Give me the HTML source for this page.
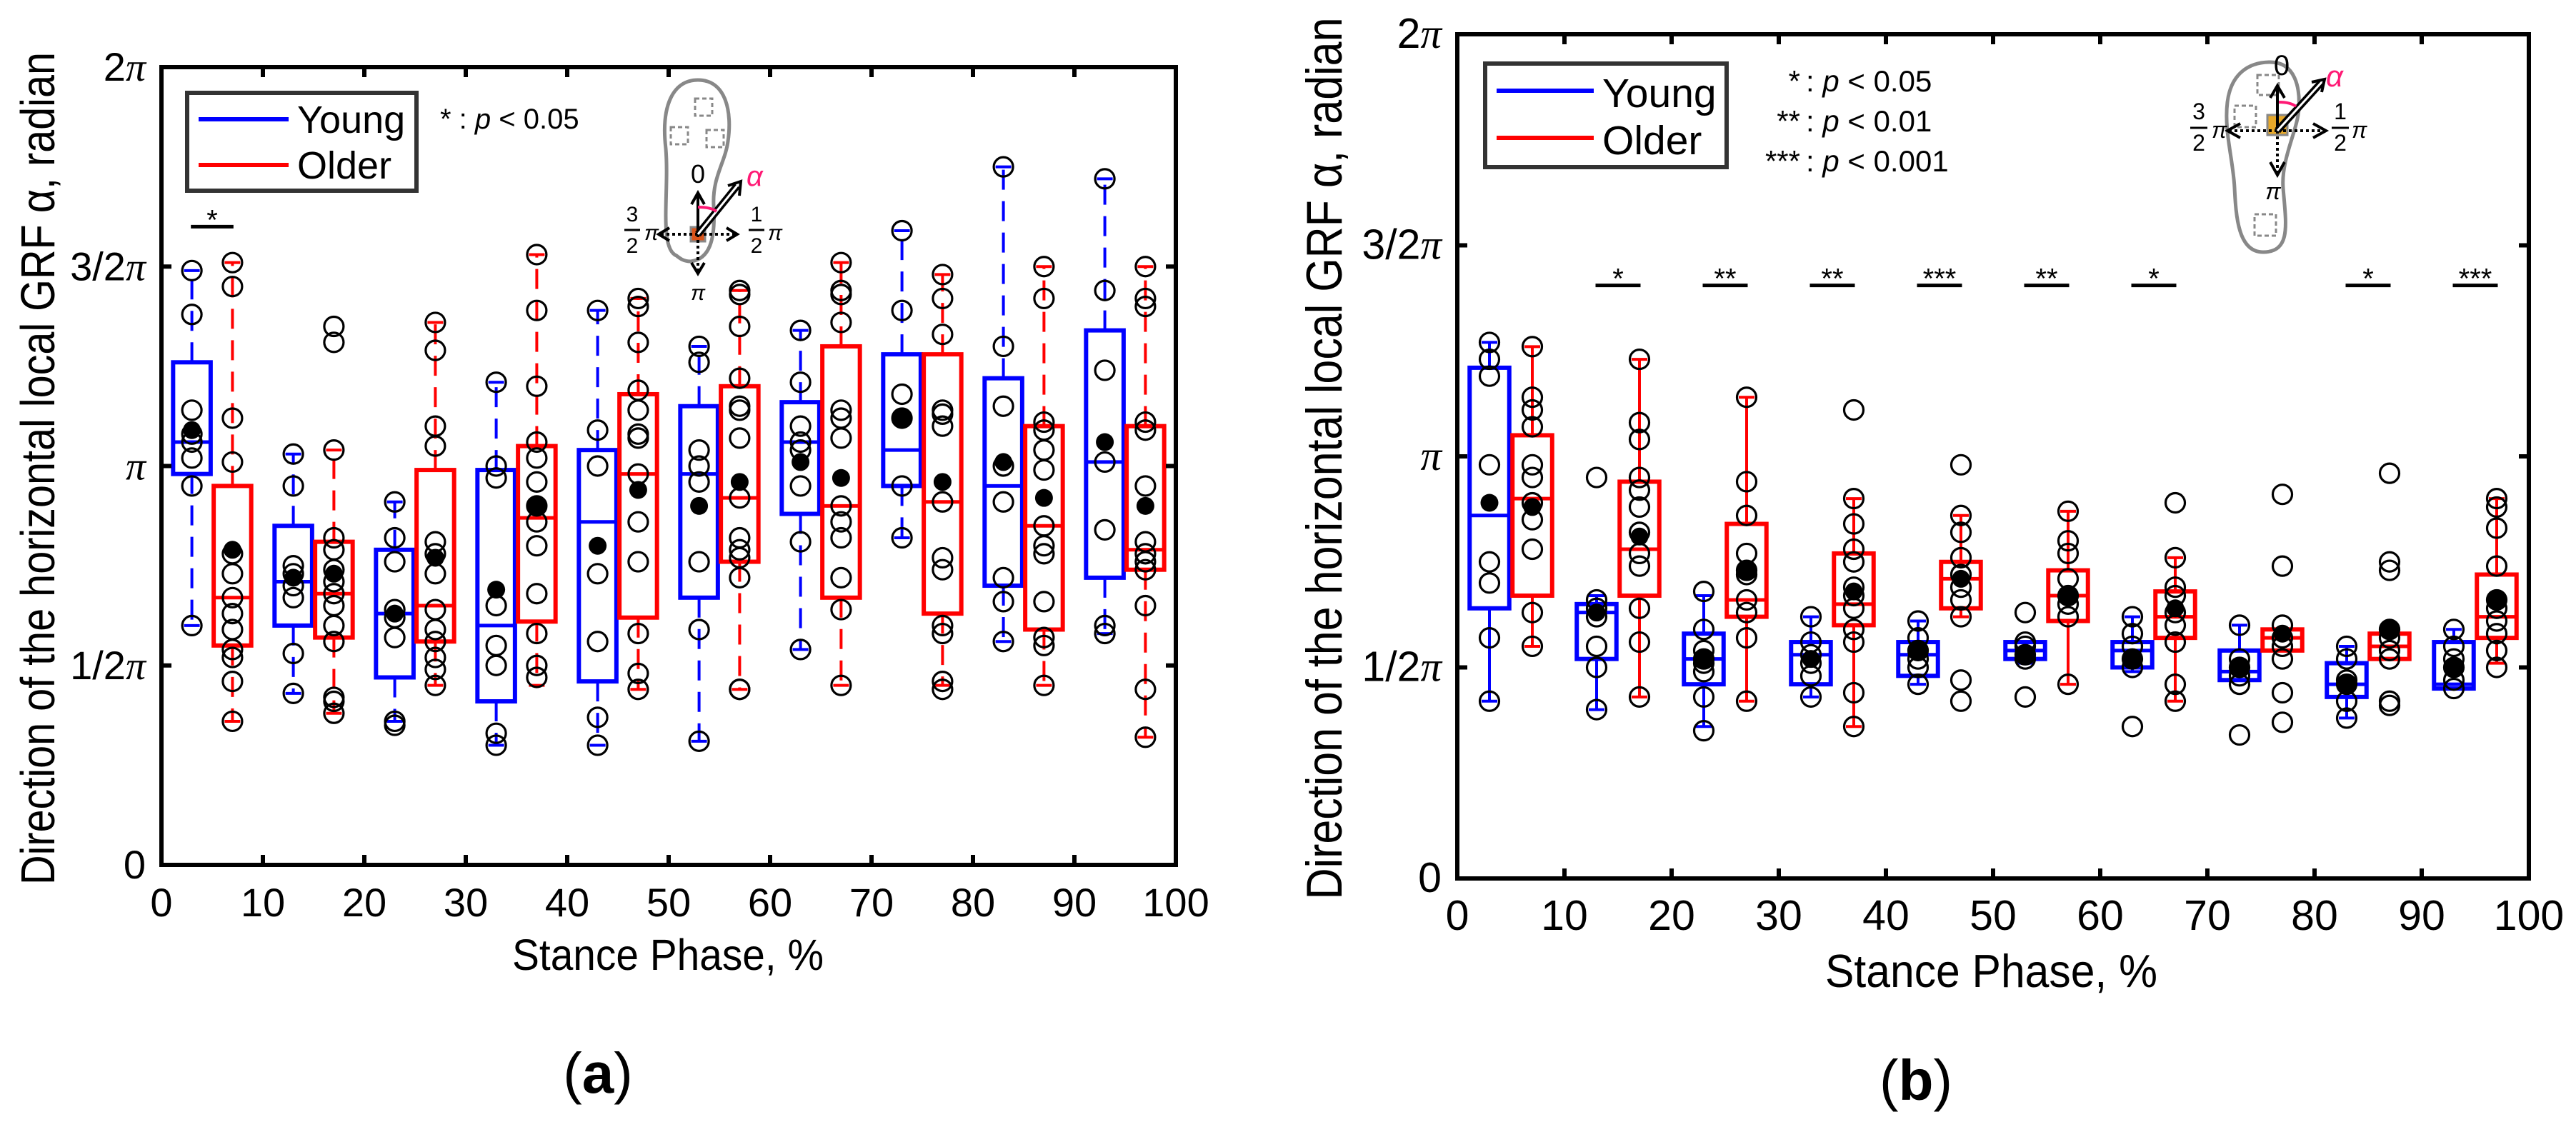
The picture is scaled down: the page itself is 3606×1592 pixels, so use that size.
<!DOCTYPE html>
<html><head><meta charset="utf-8">
<style>
html,body{margin:0;padding:0;background:#fff;}
svg{display:block;}
text{font-family:"Liberation Sans",Arial,sans-serif;}
</style></head>
<body>
<svg id="fig" width="3606" height="1592" viewBox="0 0 3606 1592" xmlns="http://www.w3.org/2000/svg">
<rect width="3606" height="1592" fill="#fff"/>
<g id="panelA"></g>
<g id="panelB"></g>

<!-- Legend panel a -->
<g>
 <rect x="262" y="130" width="321" height="137" fill="#fff" stroke="#333" stroke-width="6"/>
 <line x1="278" y1="167" x2="404" y2="167" stroke="#0000ff" stroke-width="6"/>
 <text x="416" y="186" font-size="54">Young</text>
 <line x1="278" y1="231" x2="404" y2="231" stroke="#ff0000" stroke-width="6"/>
 <text x="416" y="250" font-size="54">Older</text>
</g>
<text x="616" y="180" font-size="40">*  : <tspan font-style="italic">p</tspan> &lt; 0.05</text>

<!-- Foot inset a -->
<g transform="translate(977,328)">
 <path d="M-30,30 C-55,20 -40,-60 -45,-120 C-52,-180 -35,-216 0,-216 C40,-216 48,-170 42,-130 C38,-100 20,-80 22,-40 C25,10 15,35 -10,38 C-20,38 -25,34 -30,30 Z" fill="none" stroke="#888" stroke-width="5"/>
 <rect x="-4" y="-190" width="24" height="24" fill="none" stroke="#888" stroke-width="3" stroke-dasharray="6,4"/>
 <rect x="-38" y="-150" width="24" height="24" fill="none" stroke="#888" stroke-width="3" stroke-dasharray="6,4"/>
 <rect x="12" y="-146" width="24" height="24" fill="none" stroke="#888" stroke-width="3" stroke-dasharray="6,4"/>
 <rect x="-10" y="-10" width="20" height="20" fill="#d9541a" stroke="#888" stroke-width="3"/>
 <line x1="0" y1="0" x2="0" y2="-55" stroke="#000" stroke-width="4"/>
 <path d="M-9,-42 L0,-58 L9,-42" fill="none" stroke="#000" stroke-width="4"/>
 <line x1="0" y1="0" x2="0" y2="52" stroke="#000" stroke-width="4" stroke-dasharray="4,4"/>
 <path d="M-9,40 L0,55 L9,40" fill="none" stroke="#000" stroke-width="4"/>
 <line x1="0" y1="0" x2="-52" y2="0" stroke="#000" stroke-width="4" stroke-dasharray="4,4"/>
 <path d="M-40,-9 L-55,0 L-40,9" fill="none" stroke="#000" stroke-width="4"/>
 <line x1="0" y1="0" x2="52" y2="0" stroke="#000" stroke-width="4" stroke-dasharray="4,4"/>
 <path d="M40,-9 L55,0 L40,9" fill="none" stroke="#000" stroke-width="4"/>
 <line x1="0" y1="0" x2="55" y2="-68" stroke="#000" stroke-width="10"/>
 <line x1="0" y1="0" x2="55" y2="-68" stroke="#fff" stroke-width="3"/>
 <path d="M42,-68 L60,-74 L58,-54" fill="none" stroke="#000" stroke-width="4"/>
 <path d="M0,-38 Q18,-38 26,-32" fill="none" stroke="#ff1a75" stroke-width="4"/>
 <text x="0" y="-72" font-size="36" text-anchor="middle">0</text>
 <text x="68" y="-68" font-size="40" font-style="italic" fill="#ff1a75" font-family="Liberation Serif,serif">α</text>
 <text x="-92" y="-18" font-size="30" text-anchor="middle" font-family="Liberation Serif,serif">3</text>
 <line x1="-103" y1="-6" x2="-81" y2="-6" stroke="#000" stroke-width="3"/>
 <text x="-92" y="26" font-size="30" text-anchor="middle" font-family="Liberation Serif,serif">2</text>
 <text x="-75" y="8" font-size="30" font-style="italic" font-family="Liberation Serif,serif">π</text>
 <text x="82" y="-18" font-size="30" text-anchor="middle" font-family="Liberation Serif,serif">1</text>
 <line x1="71" y1="-6" x2="93" y2="-6" stroke="#000" stroke-width="3"/>
 <text x="82" y="26" font-size="30" text-anchor="middle" font-family="Liberation Serif,serif">2</text>
 <text x="98" y="8" font-size="30" font-style="italic" font-family="Liberation Serif,serif">π</text>
 <text x="0" y="92" font-size="30" font-style="italic" text-anchor="middle" font-family="Liberation Serif,serif">π</text>
</g>

<!-- Legend panel b -->
<g>
 <rect x="2079" y="89" width="338" height="145" fill="#fff" stroke="#333" stroke-width="6"/>
 <line x1="2095" y1="127" x2="2231" y2="127" stroke="#0000ff" stroke-width="6"/>
 <text x="2243" y="150" font-size="57">Young</text>
 <line x1="2095" y1="193" x2="2231" y2="193" stroke="#ff0000" stroke-width="6"/>
 <text x="2243" y="216" font-size="57">Older</text>
</g>
<g font-size="42">
 <text x="2520" y="128" text-anchor="end">*</text><text x="2528" y="128">: <tspan font-style="italic">p</tspan> &lt; 0.05</text>
 <text x="2520" y="184" text-anchor="end">**</text><text x="2528" y="184">: <tspan font-style="italic">p</tspan> &lt; 0.01</text>
 <text x="2520" y="240" text-anchor="end">***</text><text x="2528" y="240">: <tspan font-style="italic">p</tspan> &lt; 0.001</text>
</g>

<!-- Foot inset b -->
<g transform="translate(3188,183)">
 <path d="M-10,-96 C25,-96 32,-60 30,-30 C28,0 5,40 8,80 C12,130 20,170 -20,170 C-55,170 -58,120 -60,80 C-62,40 -75,0 -70,-40 C-65,-80 -40,-96 -10,-96 Z" fill="none" stroke="#888" stroke-width="5"/>
 <rect x="-28" y="-78" width="30" height="28" fill="none" stroke="#888" stroke-width="3" stroke-dasharray="6,4"/>
 <rect x="-60" y="-35" width="30" height="30" fill="none" stroke="#888" stroke-width="3" stroke-dasharray="6,4"/>
 <rect x="-32" y="117" width="30" height="30" fill="none" stroke="#888" stroke-width="3" stroke-dasharray="6,4"/>
 <rect x="-14" y="-22" width="28" height="28" fill="#e8a92a" stroke="#888" stroke-width="3"/>
 <line x1="0" y1="0" x2="0" y2="-62" stroke="#000" stroke-width="4"/>
 <path d="M-10,-46 L0,-63 L10,-46" fill="none" stroke="#000" stroke-width="4"/>
 <line x1="0" y1="0" x2="0" y2="60" stroke="#000" stroke-width="4" stroke-dasharray="4,4"/>
 <path d="M-10,44 L0,62 L10,44" fill="none" stroke="#000" stroke-width="4"/>
 <line x1="0" y1="0" x2="-68" y2="0" stroke="#000" stroke-width="4" stroke-dasharray="4,4"/>
 <path d="M-52,-10 L-70,0 L-52,10" fill="none" stroke="#000" stroke-width="4"/>
 <line x1="0" y1="0" x2="66" y2="0" stroke="#000" stroke-width="4" stroke-dasharray="4,4"/>
 <path d="M50,-10 L68,0 L50,10" fill="none" stroke="#000" stroke-width="4"/>
 <line x1="0" y1="0" x2="62" y2="-68" stroke="#000" stroke-width="10"/>
 <line x1="0" y1="0" x2="62" y2="-68" stroke="#fff" stroke-width="3"/>
 <path d="M48,-68 L66,-72 L62,-54" fill="none" stroke="#000" stroke-width="4"/>
 <path d="M2,-40 Q18,-40 26,-34" fill="none" stroke="#ff1a75" stroke-width="4"/>
 <text x="6" y="-78" font-size="40" text-anchor="middle">0</text>
 <text x="68" y="-62" font-size="42" font-style="italic" fill="#ff1a75" font-family="Liberation Serif,serif">α</text>
 <text x="-110" y="-16" font-size="32" text-anchor="middle" font-family="Liberation Serif,serif">3</text>
 <line x1="-122" y1="-4" x2="-98" y2="-4" stroke="#000" stroke-width="3"/>
 <text x="-110" y="28" font-size="32" text-anchor="middle" font-family="Liberation Serif,serif">2</text>
 <text x="-92" y="10" font-size="32" font-style="italic" font-family="Liberation Serif,serif">π</text>
 <text x="88" y="-16" font-size="32" text-anchor="middle" font-family="Liberation Serif,serif">1</text>
 <line x1="76" y1="-4" x2="100" y2="-4" stroke="#000" stroke-width="3"/>
 <text x="88" y="28" font-size="32" text-anchor="middle" font-family="Liberation Serif,serif">2</text>
 <text x="104" y="10" font-size="32" font-style="italic" font-family="Liberation Serif,serif">π</text>
 <text x="-6" y="96" font-size="32" font-style="italic" text-anchor="middle" font-family="Liberation Serif,serif">π</text>
</g>

<text x="837" y="1530" font-size="80" text-anchor="middle" font-family="Liberation Serif,serif">(<tspan font-weight="bold">a</tspan>)</text>
<text x="2682" y="1540" font-size="80" text-anchor="middle" font-family="Liberation Serif,serif">(<tspan font-weight="bold">b</tspan>)</text>
</svg>

<script>
// ---- Data (angles in units of π; stats = [whiskerLow, q1, median, q3, whiskerHigh, mean]) ----
const groupX = [3,13,23,33,43,53,63,73,83,93];
const olderOffset = 4;
const xTicks = [0,10,20,30,40,50,60,70,80,90,100];
const yTicks = [0,0.5,1,1.5,2];
const yTickLabels = ["0","1/2","","3/2","2"];

const aYoungStats = [
 [0.60,0.98,1.06,1.26,1.49,1.09],[0.43,0.60,0.71,0.85,1.03,0.72],[0.36,0.47,0.63,0.79,0.91,0.63],
 [0.30,0.41,0.60,0.99,1.21,0.69],[0.30,0.46,0.86,1.04,1.39,0.80],[0.31,0.67,0.98,1.15,1.30,0.90],
 [0.54,0.88,1.06,1.16,1.34,1.01],[0.82,0.95,1.04,1.28,1.59,1.12],[0.56,0.70,0.95,1.22,1.75,1.01],
 [0.58,0.72,1.01,1.34,1.72,1.06]];
const aYoungPts = [
 [1.49,1.38,1.14,1.08,1.06,1.02,0.95,0.60],[1.03,0.95,0.75,0.73,0.70,0.67,0.53,0.43],
 [0.91,0.82,0.76,0.64,0.62,0.57,0.36,0.35],[1.21,1.00,0.97,0.65,0.55,0.50,0.33,0.30],
 [1.39,1.09,1.00,0.73,0.56,0.37,0.30],[1.30,1.26,1.04,1.00,0.96,0.76,0.59,0.31],
 [1.34,1.21,1.10,1.06,1.04,0.95,0.81,0.54],[1.59,1.39,1.18,1.12,0.95,0.82],
 [1.75,1.30,1.15,1.00,0.91,0.72,0.66,0.56],[1.72,1.44,1.24,1.01,0.84,0.60,0.58]];
const aOlderStats = [
 [0.36,0.55,0.67,0.95,1.51,0.79],[0.38,0.57,0.68,0.81,1.04,0.73],[0.45,0.56,0.65,0.99,1.36,0.77],
 [0.45,0.61,0.87,1.05,1.53,0.90],[0.44,0.62,0.98,1.18,1.42,0.94],[0.44,0.76,0.92,1.20,1.44,0.96],
 [0.45,0.67,0.90,1.30,1.51,0.97],[0.45,0.63,0.91,1.28,1.48,0.96],[0.45,0.59,0.85,1.10,1.50,0.92],
 [0.32,0.74,0.79,1.10,1.50,0.90]];
const aOlderPts = [
 [1.51,1.45,1.12,1.01,0.78,0.73,0.67,0.63,0.59,0.54,0.52,0.46,0.36],
 [1.35,1.31,1.04,0.82,0.79,0.74,0.71,0.68,0.65,0.60,0.56,0.42,0.41,0.38],
 [1.36,1.29,1.10,1.05,0.81,0.78,0.73,0.64,0.59,0.56,0.52,0.49,0.45],
 [1.53,1.39,1.20,1.06,1.02,0.96,0.90,0.86,0.80,0.68,0.58,0.50,0.47],
 [1.42,1.40,1.31,1.19,1.14,1.08,1.07,0.98,0.86,0.76,0.58,0.48,0.44],
 [1.44,1.43,1.35,1.22,1.15,1.14,1.07,0.92,0.82,0.79,0.77,0.72,0.44,0.44],
 [1.51,1.44,1.43,1.36,1.14,1.12,1.07,0.90,0.86,0.82,0.72,0.64,0.45],
 [1.48,1.42,1.33,1.14,1.13,1.10,0.91,0.77,0.74,0.60,0.58,0.46,0.44],
 [1.50,1.42,1.11,1.09,1.04,0.99,0.85,0.80,0.78,0.66,0.57,0.55,0.45],
 [1.50,1.42,1.40,1.11,1.09,0.95,0.81,0.78,0.76,0.74,0.65,0.44,0.32]];
const aSigX = [5];
const aSigLabels = ["*"];
const aSigLevel = 1.60;

const bYoungStats = [
 [0.42,0.64,0.86,1.21,1.27,0.89],[0.40,0.52,0.63,0.65,0.67,0.63],[0.36,0.46,0.52,0.58,0.67,0.52],
 [0.43,0.46,0.53,0.56,0.62,0.52],[0.46,0.48,0.53,0.56,0.61,0.54],[0.51,0.52,0.54,0.56,0.56,0.53],
 [0.49,0.50,0.54,0.56,0.62,0.52],[0.47,0.47,0.49,0.54,0.60,0.50],[0.38,0.43,0.46,0.51,0.55,0.46],
 [0.45,0.45,0.46,0.56,0.59,0.50]];
const bYoungPts = [
 [1.27,1.23,1.19,0.98,0.75,0.70,0.57,0.42],[0.95,0.66,0.64,0.62,0.55,0.50,0.40],
 [0.68,0.59,0.54,0.52,0.51,0.49,0.43,0.35],[0.62,0.56,0.53,0.51,0.48,0.43],
 [0.61,0.57,0.54,0.52,0.50,0.46],[0.63,0.56,0.55,0.53,0.52,0.43],
 [0.62,0.58,0.55,0.52,0.50,0.36],[0.60,0.52,0.50,0.48,0.46,0.34],
 [0.55,0.52,0.47,0.46,0.42,0.38],[0.59,0.55,0.52,0.50,0.47,0.45]];
const bOlderStats = [
 [0.55,0.67,0.90,1.05,1.26,0.88],[0.43,0.67,0.78,0.94,1.23,0.81],[0.42,0.62,0.66,0.84,1.14,0.73],
 [0.36,0.60,0.65,0.77,0.90,0.68],[0.62,0.64,0.71,0.75,0.86,0.71],[0.46,0.61,0.67,0.73,0.87,0.67],
 [0.42,0.57,0.62,0.68,0.76,0.64],[0.54,0.54,0.57,0.59,0.59,0.58],[0.52,0.52,0.55,0.58,0.58,0.59],
 [0.51,0.57,0.62,0.72,0.90,0.66]];
const bOlderPts = [
 [1.26,1.14,1.11,1.07,0.98,0.95,0.89,0.85,0.78,0.63,0.55],
 [1.23,1.08,1.04,0.95,0.92,0.88,0.82,0.77,0.74,0.64,0.56,0.43],
 [1.14,0.94,0.86,0.77,0.73,0.72,0.66,0.63,0.57,0.42],
 [1.11,0.90,0.84,0.78,0.75,0.69,0.67,0.64,0.59,0.56,0.44,0.36],
 [0.98,0.86,0.82,0.76,0.72,0.69,0.66,0.62,0.47,0.42],
 [0.87,0.80,0.77,0.71,0.67,0.65,0.62,0.46],
 [0.89,0.76,0.69,0.67,0.63,0.60,0.56,0.46,0.42],
 [0.91,0.74,0.60,0.57,0.55,0.52,0.44,0.37],
 [0.96,0.75,0.73,0.59,0.57,0.54,0.52,0.42,0.41],
 [0.90,0.88,0.83,0.74,0.66,0.64,0.61,0.58,0.54,0.50]];
const bSigX = [15,25,35,45,55,65,85,95];
const bSigLabels = ["*","**","**","***","**","*","*","***"];
const bSigLevel = 1.405;

const NS = "http://www.w3.org/2000/svg";
function mk(parent, tag, attrs, txt){
  const e = document.createElementNS(NS, tag);
  for (const k in attrs) e.setAttribute(k, attrs[k]);
  if (txt !== undefined) e.textContent = txt;
  parent.appendChild(e);
  return e;
}

function drawPanel(g, P, yS, yP, oS, oP, sigX, sigL, sigLevel){
  const sx = v => P.x0 + (v/100)*(P.x1-P.x0);
  const sy = v => P.y1 - (v/2)*(P.y1-P.y0);
  const hw = 1.85;
  const drawGroups = (stats, pts, off, color, nm) => {
    stats.forEach((s, i) => {
      const xc = groupX[i] + off;
      const cx = sx(xc);
      const grp = mk(g, "g", {});
      
      
      const dash = P.dashed ? "28,16" : "none";
      const w1 = mk(grp, "line", {x1:cx, y1:sy(s[3]), x2:cx, y2:sy(s[4]), stroke:color, "stroke-width":4, "stroke-dasharray":dash});
      
      
      const w2 = mk(grp, "line", {x1:cx, y1:sy(s[1]), x2:cx, y2:sy(s[0]), stroke:color, "stroke-width":4, "stroke-dasharray":dash});
      
      
      [s[0], s[4]].forEach(v => {
        const c = mk(grp, "line", {x1:cx-11, y1:sy(v), x2:cx+11, y2:sy(v), stroke:color, "stroke-width":4});
        
        
      });
      const bx = mk(grp, "rect", {x:sx(xc-hw), y:sy(s[3]), width:sx(xc+hw)-sx(xc-hw), height:sy(s[1])-sy(s[3]), fill:"none", stroke:color, "stroke-width":6});
      
      
      const md = mk(grp, "line", {x1:sx(xc-hw), y1:sy(s[2]), x2:sx(xc+hw), y2:sy(s[2]), stroke:color, "stroke-width":5});
      
      
      pts[i].forEach(v => {
        const c = mk(grp, "circle", {cx:cx, cy:sy(v), r:13.5, fill:"none", stroke:"#000", "stroke-width":3.2});
        
        
      });
      const mn = mk(grp, "circle", {cx:cx, cy:sy(s[5]), r:12.5, fill:"#000"});
      
      
    });
  };
  drawGroups(yS, yP, 0, "#0000ff", "young");
  drawGroups(oS, oP, olderOffset, "#ff0000", "older");

  sigX.forEach((x, i) => {
    const b = mk(g, "line", {x1:sx(x-2.1), y1:sy(sigLevel), x2:sx(x+2.1), y2:sy(sigLevel), stroke:"#000", "stroke-width":5});
    
    
    const t = mk(g, "text", {x:sx(x), y:sy(sigLevel)+4, "font-size":40, "text-anchor":"middle"}, sigL[i]);
    
    
  });

  const fr = mk(g, "rect", {x:P.x0, y:P.y0, width:P.x1-P.x0, height:P.y1-P.y0, fill:"none", stroke:"#000", "stroke-width":6});
  
  
  xTicks.forEach(v => {
    const x = sx(v);
    mk(g, "line", {x1:x, y1:P.y1, x2:x, y2:P.y1-14, stroke:"#000", "stroke-width":6});
    mk(g, "line", {x1:x, y1:P.y0, x2:x, y2:P.y0+14, stroke:"#000", "stroke-width":6});
    const t = mk(g, "text", {x:x, y:P.y1+72, "font-size":P.fs, "text-anchor":"middle"}, String(v));
    
    
  });
  yTicks.forEach((v, i) => {
    const y = sy(v);
    mk(g, "line", {x1:P.x0, y1:y, x2:P.x0+14, y2:y, stroke:"#000", "stroke-width":6});
    mk(g, "line", {x1:P.x1, y1:y, x2:P.x1-14, y2:y, stroke:"#000", "stroke-width":6});
    const t = mk(g, "text", {x:P.x0-22, y:y+19, "font-size":P.fs, "text-anchor":"end"}, yTickLabels[i]);
    if (v > 0) {
      const ts = mk(t, "tspan", {"font-style":"italic", "font-family":"Liberation Serif,serif"}, "\u03c0");
    }
    
    
  });
  const xt = mk(g, "text", {x:(P.xtL+P.xtR)/2, y:P.xtY, "font-size":P.fs*1.1, "text-anchor":"middle", textLength:P.xtR-P.xtL, lengthAdjust:"spacingAndGlyphs"}, "Stance Phase, %");
  
  
  const yt = mk(g, "text", {x:0, y:0, "font-size":P.fs*1.2, "text-anchor":"middle", textLength:P.ytLen, lengthAdjust:"spacingAndGlyphs", transform:`translate(${P.ytX},${P.ytY}) rotate(-90)`}, "Direction of the horizontal local GRF \u03b1, radian");
  
  
}

const PA = {x0:226, x1:1646, y0:94, y1:1211, fs:56, dashed:true, xtL:717, xtR:1153, xtY:1358, ytX:76, ytY:656, ytLen:1166};
const PB = {x0:2040, x1:3540, y0:48, y1:1230, fs:59, dashed:false, xtL:2555, xtR:3020, xtY:1382, ytX:1878, ytY:642, ytLen:1235};
drawPanel(document.getElementById("panelA"), PA, aYoungStats, aYoungPts, aOlderStats, aOlderPts, aSigX, aSigLabels, aSigLevel);
drawPanel(document.getElementById("panelB"), PB, bYoungStats, bYoungPts, bOlderStats, bOlderPts, bSigX, bSigLabels, bSigLevel);
</script>
</body></html>
